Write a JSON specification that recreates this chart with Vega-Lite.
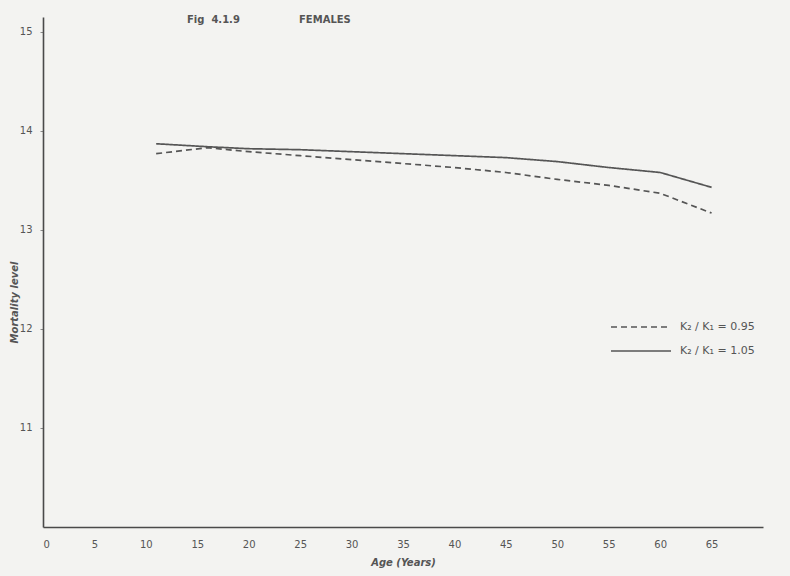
{
  "$schema": "https://vega.github.io/schema/vega-lite/v6.json",
  "autosize": "none",
  "width": 720,
  "height": 510,
  "padding": {"left": 43, "top": 17, "right": 27, "bottom": 49},
  "background": "#f3f3f1",
  "title": {
    "text": "Fig\u00a0\u00a04.1.9\u00a0\u00a0\u00a0\u00a0\u00a0\u00a0\u00a0\u00a0\u00a0\u00a0\u00a0\u00a0\u00a0\u00a0\u00a0\u00a0\u00a0FEMALES",
    "anchor": "start",
    "dx": 178,
    "dy": 12,
    "fontSize": 10,
    "font": "DejaVu Sans",
    "fontWeight": "bold",
    "color": "#555555"
  },
  "config": {
    "view": {"stroke": null},
    "font": "DejaVu Sans",
    "axis": {
      "grid": false,
      "domainColor": "#4a4a4a",
      "domainWidth": 1.6,
      "tickColor": "#8a8a8a",
      "labelColor": "#555555",
      "titleColor": "#555555",
      "labelFontSize": 10,
      "titleFontSize": 10,
      "titleFontStyle": "italic",
      "titleFontWeight": "bold"
    }
  },
  "data": {
    "values": [
      {"age": 11, "level": 13.77, "ratio": "K₂ / K₁ = 0.95"},
      {"age": 16, "level": 13.83, "ratio": "K₂ / K₁ = 0.95"},
      {"age": 20, "level": 13.79, "ratio": "K₂ / K₁ = 0.95"},
      {"age": 25, "level": 13.75, "ratio": "K₂ / K₁ = 0.95"},
      {"age": 30, "level": 13.71, "ratio": "K₂ / K₁ = 0.95"},
      {"age": 35, "level": 13.67, "ratio": "K₂ / K₁ = 0.95"},
      {"age": 40, "level": 13.63, "ratio": "K₂ / K₁ = 0.95"},
      {"age": 45, "level": 13.58, "ratio": "K₂ / K₁ = 0.95"},
      {"age": 50, "level": 13.51, "ratio": "K₂ / K₁ = 0.95"},
      {"age": 55, "level": 13.45, "ratio": "K₂ / K₁ = 0.95"},
      {"age": 60, "level": 13.37, "ratio": "K₂ / K₁ = 0.95"},
      {"age": 65, "level": 13.17, "ratio": "K₂ / K₁ = 0.95"},
      {"age": 11, "level": 13.87, "ratio": "K₂ / K₁ = 1.05"},
      {"age": 16, "level": 13.84, "ratio": "K₂ / K₁ = 1.05"},
      {"age": 20, "level": 13.82, "ratio": "K₂ / K₁ = 1.05"},
      {"age": 25, "level": 13.81, "ratio": "K₂ / K₁ = 1.05"},
      {"age": 30, "level": 13.79, "ratio": "K₂ / K₁ = 1.05"},
      {"age": 35, "level": 13.77, "ratio": "K₂ / K₁ = 1.05"},
      {"age": 40, "level": 13.75, "ratio": "K₂ / K₁ = 1.05"},
      {"age": 45, "level": 13.73, "ratio": "K₂ / K₁ = 1.05"},
      {"age": 50, "level": 13.69, "ratio": "K₂ / K₁ = 1.05"},
      {"age": 55, "level": 13.63, "ratio": "K₂ / K₁ = 1.05"},
      {"age": 60, "level": 13.58, "ratio": "K₂ / K₁ = 1.05"},
      {"age": 65, "level": 13.43, "ratio": "K₂ / K₁ = 1.05"}
    ]
  },
  "mark": {"type": "line", "color": "#555555", "strokeWidth": 1.7},
  "encoding": {
    "x": {
      "field": "age",
      "type": "quantitative",
      "scale": {"domain": [0, 70], "nice": false},
      "axis": {
        "title": "Age (Years)",
        "values": [0, 5, 10, 15, 20, 25, 30, 35, 40, 45, 50, 55, 60, 65],
        "ticks": false,
        "labelPadding": 12,
        "titlePadding": 8
      }
    },
    "y": {
      "field": "level",
      "type": "quantitative",
      "scale": {"domain": [10, 15.15], "nice": false, "zero": false},
      "axis": {
        "title": "Mortality level",
        "values": [11, 12, 13, 14, 15],
        "tickSize": 3,
        "labelPadding": 8,
        "titleAngle": 270,
        "titleBaseline": "middle",
        "titleAlign": "center",
        "titleX": -29,
        "titleY": 285
      }
    },
    "strokeDash": {
      "field": "ratio",
      "type": "nominal",
      "scale": {
        "domain": ["K₂ / K₁ = 0.95", "K₂ / K₁ = 1.05"],
        "range": [[6, 4], [1, 0]]
      },
      "legend": {
        "title": null,
        "orient": "none",
        "legendX": 587,
        "legendY": 299,
        "symbolType": "M-3,0H3",
        "symbolSize": 400,
        "symbolStrokeWidth": 1.5,
        "symbolStrokeColor": "#555555",
        "labelFontSize": 11,
        "labelColor": "#555555",
        "labelOffset": 28,
        "rowPadding": 8
      }
    }
  }
}
